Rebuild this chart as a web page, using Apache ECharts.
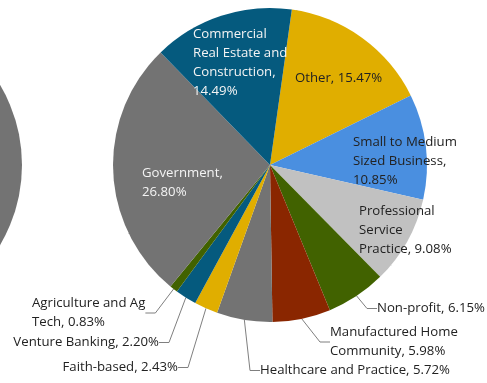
<!DOCTYPE html>
<html>
<head>
<meta charset="utf-8">
<script src="https://cdn.jsdelivr.net/npm/echarts@6/dist/echarts.min.js"></script>
<style>
  html, body { margin: 0; padding: 0; background: #ffffff; }
  #chart { width: 487px; height: 383px; }
</style>
</head>
<body>
<div id="chart"></div>
<script>
// Portfolio share by segment (percent), listed clockwise from "Other"
const categories = [
  'Other',
  'Small to Medium Sized Business',
  'Professional Service Practice',
  'Non-profit',
  'Manufactured Home Community',
  'Healthcare and Practice',
  'Faith-based',
  'Venture Banking',
  'Agriculture and Ag Tech',
  'Government',
  'Commercial Real Estate and Construction'
];
const shares = [15.47, 10.85, 9.08, 6.15, 5.98, 5.72, 2.43, 2.20, 0.83, 26.80, 14.49];

// How each label wraps onto lines (the value is appended after the last part)
const labelLines = {
  'Other': ['Other,'],
  'Small to Medium Sized Business': ['Small to Medium', 'Sized Business,', ''],
  'Professional Service Practice': ['Professional', 'Service', 'Practice,'],
  'Non-profit': ['Non-profit,'],
  'Manufactured Home Community': ['Manufactured Home', 'Community,'],
  'Healthcare and Practice': ['Healthcare and Practice,'],
  'Faith-based': ['Faith-based,'],
  'Venture Banking': ['Venture Banking,'],
  'Agriculture and Ag Tech': ['Agriculture and Ag', 'Tech,'],
  'Government': ['Government,', ''],
  'Commercial Real Estate and Construction': ['Commercial', 'Real Estate and', 'Construction,', '']
};

// Part of the neighbouring pie that runs in from the left edge
const neighbourShare = [100];

const sliceColors = {
  'Other': '#e0ae00',
  'Small to Medium Sized Business': '#4a8fe0',
  'Professional Service Practice': '#c1c1c1',
  'Non-profit': '#416200',
  'Manufactured Home Community': '#8a2600',
  'Healthcare and Practice': '#737373',
  'Faith-based': '#e0ae00',
  'Venture Banking': '#055a7e',
  'Agriculture and Ag Tech': '#416200',
  'Government': '#737373',
  'Commercial Real Estate and Construction': '#055a7e'
};

// Label placement: [x, top, align, inside?]
const labelSpots = {
  'Other': [295, 69, 'left', true],
  'Small to Medium Sized Business': [353, 133, 'left', true],
  'Professional Service Practice': [359, 202, 'left', true],
  'Non-profit': [377, 299, 'left', false],
  'Manufactured Home Community': [330, 323, 'left', false],
  'Healthcare and Practice': [260, 361, 'left', false],
  'Faith-based': [178, 358, 'right', false],
  'Venture Banking': [159, 333, 'right', false],
  'Agriculture and Ag Tech': [32, 294, 'left', false],
  'Government': [142, 164, 'left', true],
  'Commercial Real Estate and Construction': [193, 25, 'left', true]
};
const lightText = {
  'Government': true,
  'Commercial Real Estate and Construction': true
};

const FONT = '"Open Sans", sans-serif';

const pieData = categories.map((name, i) => ({
  name: name,
  value: shares[i],
  itemStyle: { color: sliceColors[name] },
  label: {
    position: labelSpots[name][3] ? 'inside' : 'outside',
    color: lightText[name] ? '#f4f4f4' : '#222222'
  }
}));

const chart = echarts.init(document.getElementById('chart'), null, { renderer: 'canvas' });

chart.setOption({
  backgroundColor: '#ffffff',
  animation: false,
  series: [
    {
      type: 'pie',
      silent: true,
      center: [-135, 165],
      radius: 157,
      label: { show: false },
      labelLine: { show: false },
      data: neighbourShare.map(v => ({ value: v, itemStyle: { color: '#737373' } }))
    },
    {
      type: 'pie',
      center: [270, 165],
      radius: 157,
      startAngle: 82,
      clockwise: true,
      avoidLabelOverlap: false,
      data: pieData,
      itemStyle: { borderWidth: 0 },
      label: {
        show: true,
        fontFamily: FONT,
        fontSize: 13.2,
        lineHeight: 19,
        formatter: (p) => {
          const parts = labelLines[p.name].slice();
          const pct = p.value.toFixed(2) + '%';
          const last = parts.length - 1;
          parts[last] = parts[last] ? parts[last] + ' ' + pct : pct;
          return parts.join('\n');
        }
      },
      labelLine: {
        show: true,
        length: 10,
        length2: 10,
        smooth: false,
        lineStyle: { color: '#7f7f7f', width: 1 }
      },
      labelLayout: (params) => {
        const spot = labelSpots[categories[params.dataIndex]];
        return {
          x: spot[0],
          y: spot[1],
          align: spot[2],
          verticalAlign: 'top'
        };
      }
    }
  ]
});
</script>
</body>
</html>
